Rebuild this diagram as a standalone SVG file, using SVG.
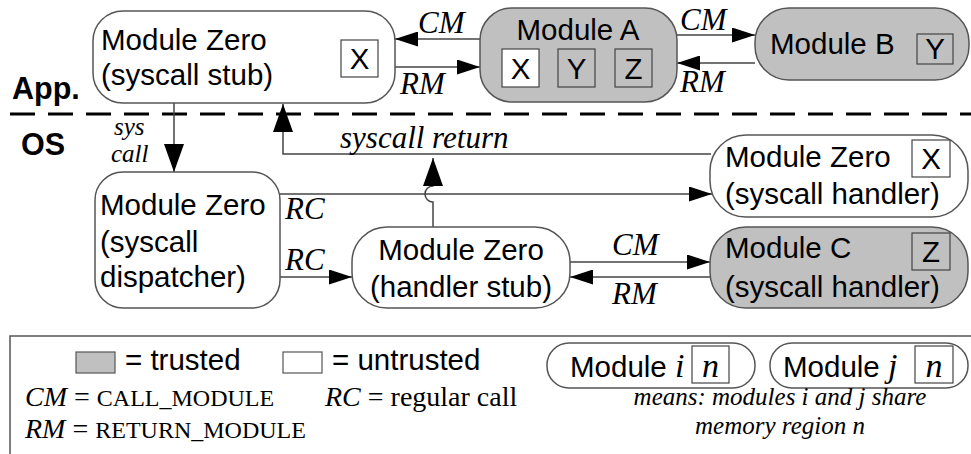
<svg xmlns="http://www.w3.org/2000/svg" width="971" height="454" viewBox="0 0 971 454">
<style>
.bg{fill:#fff}
.node{stroke:#555;stroke-width:1.5}
.u{fill:#fff}
.t{fill:#c0c0c0}
.reg{fill:#fff;stroke:#444;stroke-width:1.2}
.regt{fill:#c0c0c0;stroke:#444;stroke-width:1.2}
.s{font-family:"Liberation Sans",Arial,sans-serif;font-size:29.5px;fill:#000}
.b{font-family:"Liberation Sans",Arial,sans-serif;font-size:30.5px;font-weight:bold;fill:#000}
.i{font-family:"Liberation Serif","Times New Roman",serif;font-style:italic;font-size:31px;fill:#000}
.ism{font-family:"Liberation Serif","Times New Roman",serif;font-style:italic;font-size:25px;fill:#000}
.li{font-family:"Liberation Serif","Times New Roman",serif;font-style:italic;font-size:28px;fill:#000}
.lm{font-family:"Liberation Serif","Times New Roman",serif;font-style:italic;font-size:25px;fill:#000}
.lr{font-family:"Liberation Serif","Times New Roman",serif;font-size:28px;fill:#000}
.sc{font-family:"Liberation Serif","Times New Roman",serif;font-size:24px;fill:#000}
.ln{font-family:"Liberation Serif","Times New Roman",serif;font-style:italic;font-size:34px;fill:#000}
.c{stroke:#444;stroke-width:1.5;fill:none}
</style>
<defs>
<marker id="ah" markerUnits="userSpaceOnUse" markerWidth="23" markerHeight="15" viewBox="0 0 23 15" refX="23" refY="7.5" orient="auto"><path d="M0,0 L23,7.5 L0,15 z" fill="#000"/></marker>
<marker id="ahv" markerUnits="userSpaceOnUse" markerWidth="28" markerHeight="20" viewBox="0 0 28 20" refX="28" refY="10" orient="auto"><path d="M0,0 L28,10 L0,20 z" fill="#000"/></marker>
</defs>
<rect class="bg" x="0" y="0" width="971" height="454"/>

<text class="b" x="12" y="99">App.</text>
<text class="b" x="21" y="155">OS</text>
<line x1="10" y1="114" x2="971" y2="114" stroke="#000" stroke-width="3" stroke-dasharray="25 13"/>

<g id="connectors">
<path class="c" d="M480,39 H395" marker-end="url(#ah)"/>
<path class="c" d="M395,67 H480" marker-end="url(#ah)"/>
<path class="c" d="M677,35 H755" marker-end="url(#ah)"/>
<path class="c" d="M755,63 H677" marker-end="url(#ah)"/>
<path class="c" d="M174,103 V172" marker-end="url(#ahv)"/>
<path class="c" d="M711,154 H283 V104" marker-end="url(#ahv)"/>
<path class="c" d="M280,194 H712" marker-end="url(#ah)"/>
<path class="c" d="M433,227 V202 A8,8 0 0 1 433,186 V158" marker-end="url(#ahv)"/>
<path class="c" d="M280,277 H352" marker-end="url(#ah)"/>
<path class="c" d="M570,262 H710" marker-end="url(#ah)"/>
<path class="c" d="M710,277 H570" marker-end="url(#ah)"/>
<text class="i" x="418" y="33">CM</text>
<text class="i" x="400" y="94">RM</text>
<text class="i" x="680" y="30">CM</text>
<text class="i" x="680" y="92">RM</text>
<text class="ism" x="114" y="135">sys</text>
<text class="ism" x="111" y="162">call</text>
<text class="i" x="340" y="148">syscall return</text>
<text class="i" x="285" y="219">RC</text>
<text class="i" x="285" y="270">RC</text>
<text class="i" x="612" y="255">CM</text>
<text class="i" x="612" y="304">RM</text>
</g>

<g id="stub">
<rect class="node u" x="93" y="11" width="302" height="92" rx="30" ry="30"/>
<text class="s" x="101" y="50">Module Zero</text>
<text class="s" x="101" y="85">(syscall stub)</text>
<rect class="reg" x="341" y="40" width="37" height="37"/>
<text class="s" x="359.5" y="69" text-anchor="middle">X</text>
</g>

<g id="moduleA">
<rect class="node t" x="480" y="8" width="197" height="94" rx="32" ry="32"/>
<text class="s" x="578" y="40" text-anchor="middle">Module A</text>
<rect class="reg" x="502" y="49" width="37" height="38"/>
<text class="s" x="520.5" y="79" text-anchor="middle">X</text>
<rect class="regt" x="558" y="49" width="37" height="38"/>
<text class="s" x="576.5" y="79" text-anchor="middle">Y</text>
<rect class="regt" x="615" y="49" width="37" height="38"/>
<text class="s" x="633.5" y="79" text-anchor="middle">Z</text>
</g>

<g id="moduleB">
<rect class="node t" x="755" y="8" width="214" height="72" rx="34" ry="34"/>
<text class="s" x="770" y="54">Module B</text>
<rect class="regt" x="917" y="34" width="36" height="30"/>
<text class="s" x="935" y="59" text-anchor="middle">Y</text>
</g>

<g id="dispatcher">
<rect class="node u" x="95" y="172" width="185" height="136" rx="28" ry="28"/>
<text class="s" x="100" y="215">Module Zero</text>
<text class="s" x="100" y="252">(syscall</text>
<text class="s" x="100" y="287">dispatcher)</text>
</g>

<g id="handlerStub">
<rect class="node u" x="352" y="227" width="218" height="81" rx="35" ry="35"/>
<text class="s" x="461" y="260" text-anchor="middle">Module Zero</text>
<text class="s" x="461" y="297" text-anchor="middle">(handler stub)</text>
</g>

<g id="handlerX">
<rect class="node u" x="710" y="135" width="258" height="82" rx="36" ry="36"/>
<text class="s" x="725" y="167">Module Zero</text>
<text class="s" x="725" y="204">(syscall handler)</text>
<rect class="reg" x="912" y="140" width="38" height="37"/>
<text class="s" x="931" y="169" text-anchor="middle">X</text>
</g>

<g id="moduleC">
<rect class="node t" x="710" y="227" width="258" height="81" rx="36" ry="36"/>
<text class="s" x="725" y="258">Module C</text>
<text class="s" x="725" y="297">(syscall handler)</text>
<rect class="regt" x="912" y="233" width="38" height="37"/>
<text class="s" x="931" y="262" text-anchor="middle">Z</text>
</g>

<g id="legend">
<path d="M10,460 V336 H971" fill="none" stroke="#555" stroke-width="1.5"/>
<rect x="76" y="352" width="39" height="21" fill="#c0c0c0" stroke="#555" stroke-width="1.2"/>
<text class="s" x="125" y="370">= trusted</text>
<rect x="283" y="352" width="39" height="21" fill="#fff" stroke="#555" stroke-width="1.2"/>
<text class="s" x="332" y="370">= untrusted</text>
<text x="25" y="406"><tspan class="li">CM</tspan><tspan class="lr"> = </tspan><tspan class="sc">CALL_MODULE</tspan></text>
<text x="325" y="406"><tspan class="li">RC</tspan><tspan class="lr"> = regular call</tspan></text>
<text x="25" y="438"><tspan class="li">RM</tspan><tspan class="lr"> = </tspan><tspan class="sc">RETURN_MODULE</tspan></text>
<rect x="547" y="343" width="208" height="45" rx="22" ry="22" fill="#fff" stroke="#555" stroke-width="1.5"/>
<text x="570" y="377"><tspan class="s">Module </tspan><tspan class="ln">i</tspan></text>
<rect x="692" y="346" width="37" height="37" fill="#fff" stroke="#444" stroke-width="1.2"/>
<text class="ln" x="710.5" y="377" text-anchor="middle">n</text>
<rect x="770" y="343" width="198" height="45" rx="22" ry="22" fill="#fff" stroke="#555" stroke-width="1.5"/>
<text x="783" y="377"><tspan class="s">Module </tspan><tspan class="ln">j</tspan></text>
<rect x="915" y="346" width="38" height="37" fill="#fff" stroke="#444" stroke-width="1.2"/>
<text class="ln" x="934" y="377" text-anchor="middle">n</text>
<text class="lm" x="780" y="405" text-anchor="middle">means: modules i and j share</text>
<text class="lm" x="780" y="434" text-anchor="middle">memory region n</text>
</g>
</svg>
